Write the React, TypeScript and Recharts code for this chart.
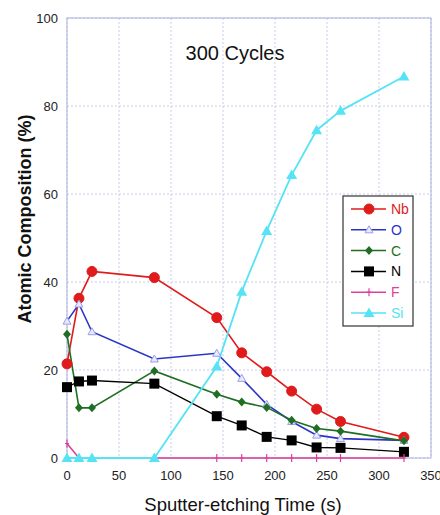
import React from "react";
import { LineChart, Line, XAxis, YAxis, CartesianGrid, Customized } from "recharts";

const times = [0, 11.5, 24, 84, 144, 168, 192, 216, 240, 263, 324];
const nbValues = [21.4, 36.3, 42.4, 41.0, 31.9, 23.9, 19.6, 15.2, 11.1, 8.3, 4.7];
const oValues = [31.1, 35.0, 28.7, 22.5, 23.8, 18.1, 12.2, 8.3, 5.2, 4.4, 4.0];
const cValues = [28.1, 11.4, 11.4, 19.8, 14.5, 12.7, 11.5, 8.6, 6.7, 6.1, 3.9];
const nValues = [16.1, 17.4, 17.6, 16.9, 9.5, 7.4, 4.8, 4.0, 2.4, 2.3, 1.4];
const fValues = [3.3, 0, 0, 0, 0, 0, 0, 0, 0, 0, 0];
const siValues = [0, 0, 0, 0, 20.8, 37.8, 51.6, 64.3, 74.5, 78.9, 86.7];

const xTicks = [0, 50, 100, 150, 200, 250, 300, 350];
const yTicks = [0, 20, 40, 60, 80, 100];

const data = times.map((t, i) => ({
  t,
  Nb: nbValues[i],
  O: oValues[i],
  C: cValues[i],
  N: nValues[i],
  F: fValues[i],
  Si: siValues[i],
}));

const COLORS = {
  Nb: "#e01b1b",
  O: "#2a35c8",
  C: "#1f6e23",
  N: "#000000",
  F: "#e0409c",
  Si: "#55e3f5",
};

const FONT = "'Liberation Sans', Arial, Helvetica, sans-serif";

const circleDot = (color: string, r: number) => (p: any) => (
  <circle key={`c${p.index}`} cx={p.cx} cy={p.cy} r={r} fill={color} stroke={color} />
);
const hollowTri = (color: string) => (p: any) => (
  <path
    key={`o${p.index}`}
    d={`M${p.cx},${p.cy - 4} L${p.cx + 4},${p.cy + 3} L${p.cx - 4},${p.cy + 3} Z`}
    fill="#e8e8ff"
    stroke="#9a9ee8"
    strokeWidth={1}
  />
);
const diamond = (color: string) => (p: any) => (
  <path
    key={`d${p.index}`}
    d={`M${p.cx},${p.cy - 4.5} L${p.cx + 4},${p.cy} L${p.cx},${p.cy + 4.5} L${p.cx - 4},${p.cy} Z`}
    fill={color}
  />
);
const square = (color: string) => (p: any) => (
  <rect key={`s${p.index}`} x={p.cx - 5} y={p.cy - 5} width={10} height={10} fill={color} />
);
const plus = (color: string) => (p: any) => (
  <path
    key={`p${p.index}`}
    d={`M${p.cx},${p.cy - 4} L${p.cx},${p.cy + 4} M${p.cx - 2},${p.cy} L${p.cx + 2},${p.cy}`}
    stroke={color}
    strokeWidth={1.2}
  />
);
const filledTri = (color: string) => (p: any) => (
  <path
    key={`t${p.index}`}
    d={`M${p.cx},${p.cy - 5.5} L${p.cx + 5.5},${p.cy + 4} L${p.cx - 5.5},${p.cy + 4} Z`}
    fill={color}
  />
);

const legendItems = [
  { name: "Nb", color: COLORS.Nb, kind: "circle" },
  { name: "O", color: COLORS.O, kind: "hollow" },
  { name: "C", color: COLORS.C, kind: "diamond" },
  { name: "N", color: COLORS.N, kind: "square" },
  { name: "F", color: COLORS.F, kind: "plus" },
  { name: "Si", color: COLORS.Si, kind: "tri" },
];

const markerFor = (kind: string, color: string, cx: number, cy: number) => {
  const p = { cx, cy, index: 0 };
  switch (kind) {
    case "circle":
      return circleDot(color, 5)(p);
    case "hollow":
      return hollowTri(color)(p);
    case "diamond":
      return diamond(color)(p);
    case "square":
      return square(color)(p);
    case "plus":
      return plus(color)(p);
    default:
      return filledTri(color)(p);
  }
};

const Overlay = () => (
  <g fontFamily={FONT}>
    <rect x={67} y={18} width={364} height={440} fill="none" stroke="#aab0dc" strokeWidth={1} />
    <text x={235} y={60} textAnchor="middle" fontSize={20} fill="#111">
      300 Cycles
    </text>
    <text x={243} y={511} textAnchor="middle" fontSize={18.5} fill="#111">
      Sputter-etching Time (s)
    </text>
    <text
      x={0}
      y={0}
      transform="translate(31,219) rotate(-90)"
      textAnchor="middle"
      fontSize={18}
      fontWeight="bold"
      fill="#111"
    >
      Atomic Composition (%)
    </text>
    <rect x={343} y={196} width={70} height={130} fill="#ffffff" stroke="#333" strokeWidth={1.2} />
    {legendItems.map((it, i) => {
      const y = 209 + i * 20.8;
      return (
        <g key={it.name}>
          <line x1={351} x2={386} y1={y} y2={y} stroke={it.color} strokeWidth={1.5} />
          {markerFor(it.kind, it.color, 369, y)}
          <text x={391} y={y + 5} fontSize={14} fill={it.color}>
            {it.name}
          </text>
        </g>
      );
    })}
  </g>
);

export default function App() {
  return (
    <div style={{ position: "absolute", left: 0, top: 0, width: 440, height: 515, background: "#fff" }}>
      <LineChart
        width={440}
        height={515}
        data={data}
        margin={{ top: 18, right: 9, bottom: 27, left: 27 }}
      >
        <CartesianGrid stroke="#c9cdea" strokeDasharray="2 2" verticalValues={xTicks} horizontalValues={yTicks} />
        <XAxis
          dataKey="t"
          type="number"
          domain={[0, 350]}
          ticks={xTicks}
          interval={0}
          axisLine={false}
          tickLine={false}
          tickSize={6}
          tickMargin={7}
          height={30}
          tick={{ fontSize: 13, fill: "#222", fontFamily: FONT }}
        />
        <YAxis
          type="number"
          domain={[0, 100]}
          ticks={yTicks}
          interval={0}
          axisLine={false}
          tickLine={false}
          tickSize={6}
          tickMargin={3}
          width={40}
          tick={{ fontSize: 13, fill: "#222", fontFamily: FONT }}
        />
        <Line dataKey="Nb" stroke={COLORS.Nb} strokeWidth={1.6} dot={circleDot(COLORS.Nb, 5)} isAnimationActive={false} />
        <Line dataKey="O" stroke={COLORS.O} strokeWidth={1.6} dot={hollowTri(COLORS.O)} isAnimationActive={false} />
        <Line dataKey="C" stroke={COLORS.C} strokeWidth={1.6} dot={diamond(COLORS.C)} isAnimationActive={false} />
        <Line dataKey="N" stroke={COLORS.N} strokeWidth={1.4} dot={square(COLORS.N)} isAnimationActive={false} />
        <Line dataKey="F" stroke={COLORS.F} strokeWidth={1.6} dot={plus(COLORS.F)} isAnimationActive={false} />
        <Line dataKey="Si" stroke={COLORS.Si} strokeWidth={1.8} dot={filledTri(COLORS.Si)} isAnimationActive={false} />
        <Customized component={Overlay} />
      </LineChart>
    </div>
  );
}
